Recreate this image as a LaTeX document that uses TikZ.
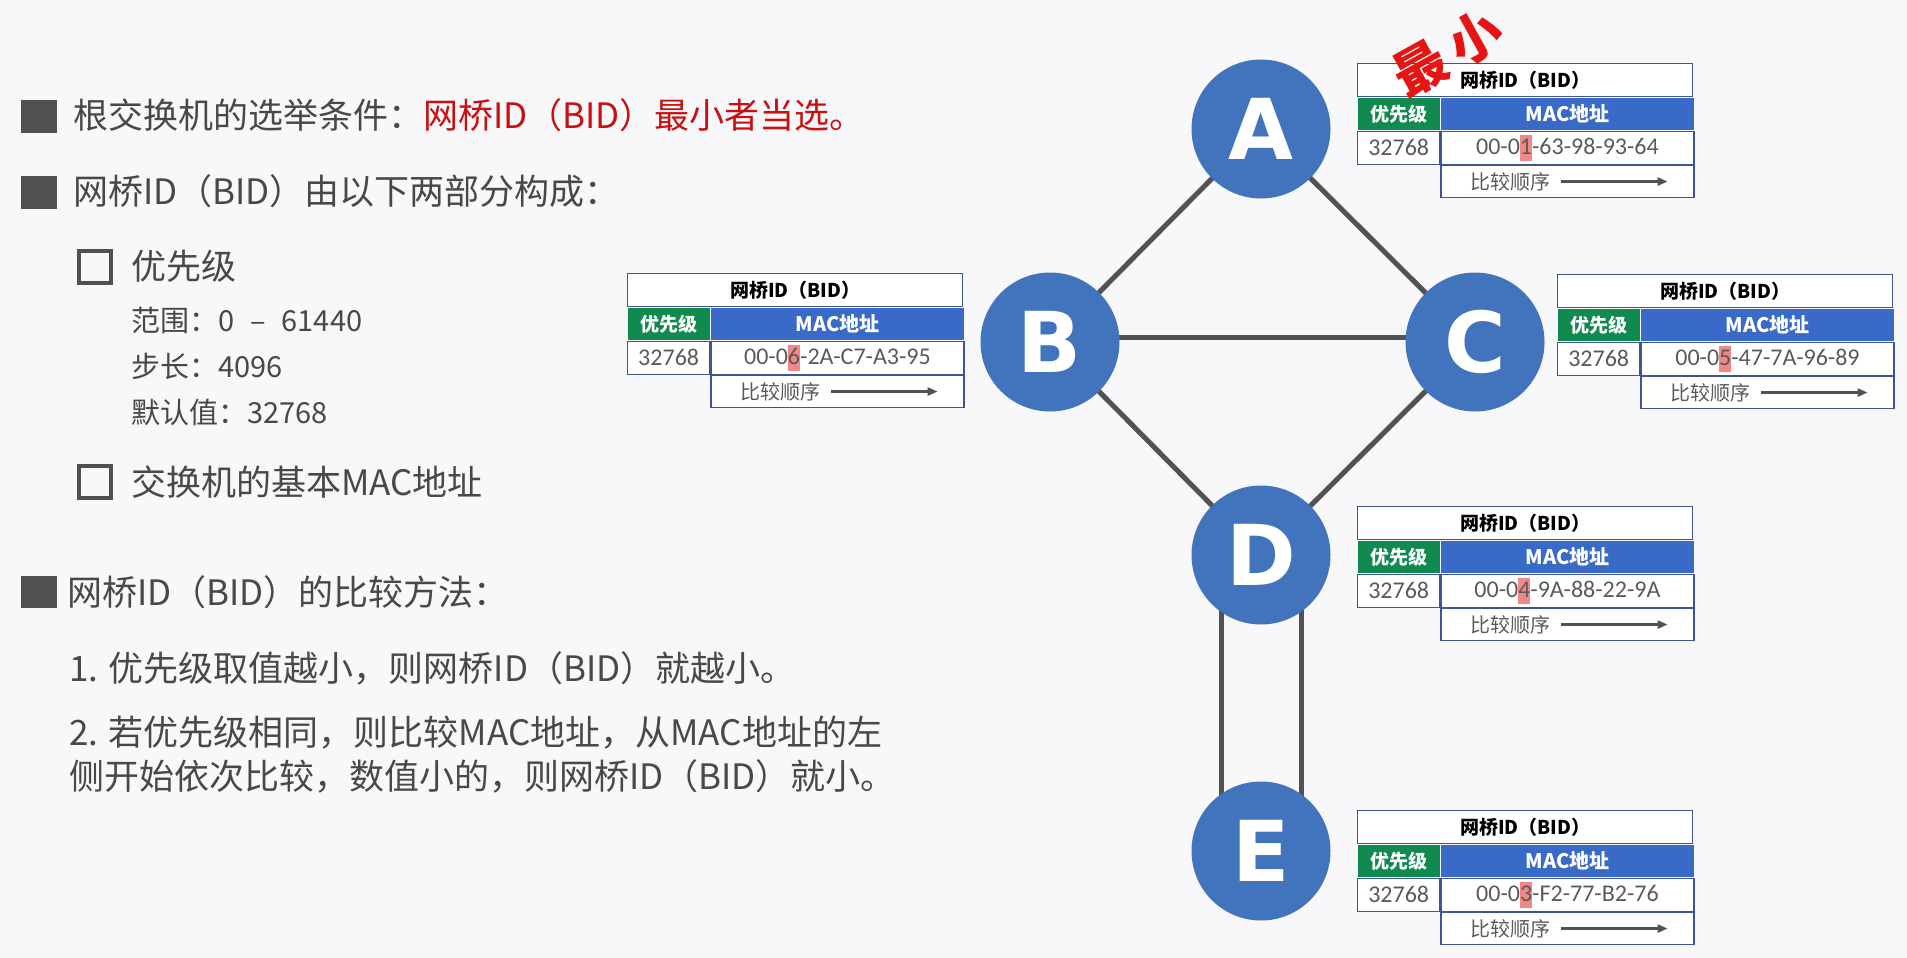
\documentclass[tikz,border=0pt]{standalone}
\usepackage{fontspec}
\setmainfont{Noto Sans CJK SC}
\newfontfamily\calib{Carlito}
\newfontfamily\heavy{DejaVu Sans}
\usetikzlibrary{arrows.meta,backgrounds}

\definecolor{bg}{RGB}{248,248,251}
\definecolor{txtgray}{RGB}{72,72,72}
\definecolor{bulletgray}{RGB}{80,80,80}
\definecolor{hotred}{RGB}{200,16,16}
\definecolor{stampred}{RGB}{232,20,20}
\definecolor{nodeblue}{RGB}{66,115,189}
\definecolor{linkgray}{RGB}{82,82,82}
\definecolor{tblue}{RGB}{62,84,150}
\definecolor{cellgreen}{RGB}{16,138,78}
\definecolor{cellblue}{RGB}{58,106,200}
\definecolor{hl}{RGB}{242,135,135}
\definecolor{celltxt}{RGB}{90,90,90}

\tikzset{
  sw/.style={circle, fill=nodeblue, minimum size=139pt, inner sep=0pt,
    text=white, font=\heavy\bfseries\fontsize{84}{84}\selectfont},
  link/.style={line width=5pt, draw=linkgray},
  txt/.style={anchor=west, inner sep=0pt, text=txtgray,
    font=\fontsize{35}{40}\selectfont},
  subtxt/.style={anchor=west, inner sep=0pt, text=txtgray,
    font=\fontsize{29}{32}\selectfont},
  solidbullet/.style={fill=bulletgray, draw=none},
  hollowbullet/.style={draw=bulletgray, line width=3.5pt, fill=none},
  cell/.style={rectangle, inner sep=0pt, anchor=north west,
    draw=tblue, line width=1.3pt},
  hdrcell/.style={cell, fill=white, minimum width=335pt, minimum height=33pt,
    text=black, font=\bfseries\fontsize{19}{22}\selectfont},
  pricell/.style={cell, draw=none, fill=cellgreen, minimum width=82pt,
    minimum height=32pt, text=white, font=\bfseries\fontsize{19}{22}\selectfont},
  maccell/.style={cell, draw=none, fill=cellblue, minimum width=253pt,
    minimum height=32pt, text=white, font=\bfseries\fontsize{20}{22}\selectfont},
  valcell/.style={cell, fill=white, minimum height=33pt, text=celltxt,
    font=\calib\fontsize{24}{26}\selectfont},
  ordcell/.style={cell, fill=white, minimum width=253pt, minimum height=32pt},
  ordtxt/.style={anchor=west, inner sep=0pt, text=celltxt,
    font=\fontsize{20}{22}\selectfont},
  ordarrow/.style={draw=linkgray, line width=2.4pt,
    -{Triangle[length=10pt,width=8pt]}},
}

% one bridge-ID table: name, top-left x, top-left y, MAC head, key digit, MAC tail
\newcommand\bidtable[6]{%
  \node[hdrcell] (#1-h) at (#2,#3) {网桥ID（BID）};
  \node[pricell] (#1-p) at (#1-h.south west) {优先级};
  \node[maccell] (#1-m) at (#1-p.north east) {MAC地址};
  \node[valcell, minimum width=82pt] (#1-pv) at (#1-p.south west) {32768};
  \node[valcell, minimum width=253pt] (#1-mv) at (#1-m.south west)
    {#4{\setlength{\fboxsep}{0pt}\colorbox{hl}{\rule[-6pt]{0pt}{26pt}#5}}#6};
  \node[ordcell] (#1-o) at (#1-mv.south west) {};
  \node[ordtxt] (#1-ot) at ([xshift=30pt]#1-o.west) {比较顺序};
  \draw[ordarrow] ([xshift=10pt]#1-ot.east) -- ([xshift=-27pt]#1-o.east);
}

\begin{document}
\begin{tikzpicture}[x=1pt,y=-1pt]
  \useasboundingbox (0,0) rectangle (1907,958);

  % ---------- explanatory text ----------
  \fill[solidbullet] (21,100) rectangle (57,133);
  \node[txt] (t1) at (73,115) {根交换机的选举条件：\textcolor{hotred}{网桥ID（BID）最小者当选。}};
  \fill[solidbullet] (21,176) rectangle (57,209);
  \node[txt] (t2) at (73,191) {网桥ID（BID）由以下两部分构成：};

  \draw[hollowbullet] (79,251) rectangle (111,283);
  \node[txt] (t3) at (131,266) {优先级};
  \node[subtxt] (t4) at (131,320) {范围：0\hspace{0.55em}–\hspace{0.55em}61440};
  \node[subtxt] (t5) at (131,366) {步长：4096};
  \node[subtxt] (t6) at (131,412) {默认值：32768};
  \draw[hollowbullet] (79,466) rectangle (111,498);
  \node[txt] (t7) at (131,482) {交换机的基本MAC地址};

  \fill[solidbullet] (21,576) rectangle (57,608);
  \node[txt] (t8) at (67,592) {网桥ID（BID）的比较方法：};
  \node[txt] (t9) at (69,668) {1. 优先级取值越小，则网桥ID（BID）就越小。};
  \node[txt] (t10) at (69,733) {2. 若优先级相同，则比较MAC地址，从MAC地址的左};
  \node[txt] (t11) at (69,776) {侧开始依次比较，数值小的，则网桥ID（BID）就小。};

  % ---------- switches ----------
  \node[sw] (A) at (1261,129) {A};
  \node[sw] (B) at (1050,342) {B};
  \node[sw] (C) at (1475,342) {C};
  \node[sw] (D) at (1261,555) {D};
  \node[sw] (E) at (1261,851) {E};

  % ---------- page colour and links, behind the switches ----------
  \begin{scope}[on background layer]
    \fill[bg] (0,0) rectangle (1907,958);
    \draw[link] (A.center) -- (B.center);
    \draw[link] (A.center) -- (C.center);
    \draw[link] ([yshift=5pt]B.center) -- ([yshift=5pt]C.center);
    \draw[link] (B.center) -- (D.center);
    \draw[link] (C.center) -- (D.center);
    \draw[link] ([xshift=-40pt]D.center) -- ([xshift=-40pt]E.center);
    \draw[link] ([xshift=40pt]D.center) -- ([xshift=40pt]E.center);
  \end{scope}

  % ---------- bridge IDs ----------
  \bidtable{tA}{1357}{63}{00-0}{1}{-63-98-93-64}
  \bidtable{tB}{627}{273}{00-0}{6}{-2A-C7-A3-95}
  \bidtable{tC}{1557}{274}{00-0}{5}{-47-7A-96-89}
  \bidtable{tD}{1357}{506}{00-0}{4}{-9A-88-22-9A}
  \bidtable{tE}{1357}{810}{00-0}{3}{-F2-77-B2-76}

  \node[text=stampred, rotate=29, inner sep=0pt,
    font=\bfseries\fontsize{53}{53}\selectfont] (least) at (1448,53) {最\hspace{10pt}小};
\end{tikzpicture}
\end{document}
